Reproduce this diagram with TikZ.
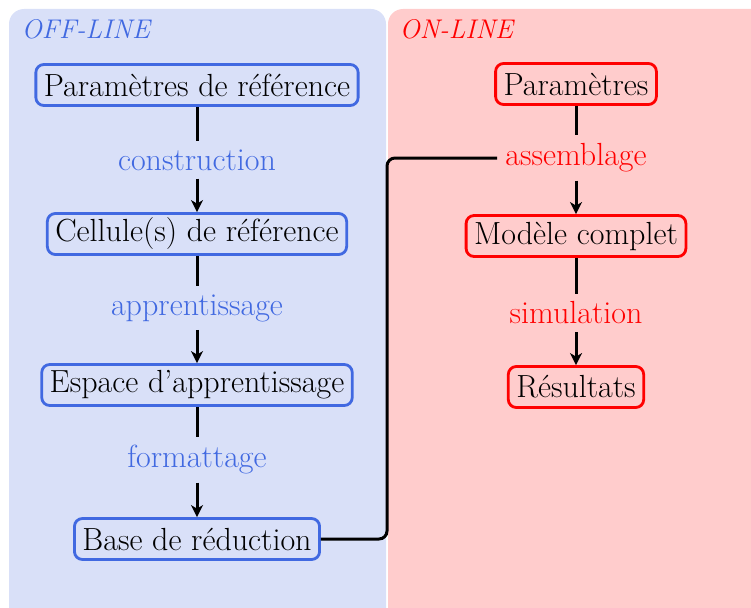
\documentclass[tikz,border=0pt]{standalone}
\usetikzlibrary{arrows.meta}
\definecolor{offblue}{RGB}{65,105,225}
\definecolor{offbg}{RGB}{217,224,248}
\definecolor{onred}{RGB}{255,0,0}
\definecolor{onbg}{RGB}{255,204,204}
\begin{document}
\begin{tikzpicture}[x=1pt,y=-1pt,
  font=\fontsize{32}{38}\selectfont,
  panel/.style={rounded corners=15},
  offbox/.style={draw=offblue,line width=2.8pt,rounded corners=8,fill=offbg,
    inner xsep=8pt,inner ysep=2pt,minimum height=41pt,text=black},
  onbox/.style={draw=onred,line width=2.8pt,rounded corners=8,fill=onbg,
    inner xsep=8pt,inner ysep=2pt,minimum height=41pt,text=black},
  offlab/.style={text=offblue,inner sep=8pt},
  onlab/.style={text=onred,inner sep=8pt},
  link/.style={line width=3pt,black},
  arr/.style={link,-{Stealth[length=12pt,width=12pt,inset=3.5pt]}}
]
\useasboundingbox (0,0) rectangle (751,607);
\begin{scope}
\clip (0,0) rectangle (751,607);
\fill[offbg,panel] (9,9) rectangle (386,640);
\fill[onbg,panel] (388,9) rectangle (780,640);
\end{scope}

\node[anchor=base west,text=offblue,font=\fontsize{27}{32}\selectfont\itshape] (offtitle) at (18,39) {OFF-LINE};
\node[anchor=base west,text=onred,font=\fontsize{27}{32}\selectfont\itshape] (ontitle) at (396,39) {ON-LINE};

% off-line chain
\node[offbox] (pref) at (197,85) {Paramètres de référence};
\node[offlab] (constr) at (197,160) {construction};
\node[offbox] (cell) at (197,234) {Cellule(s) de référence};
\node[offlab] (appr) at (197,308) {apprentissage};
\node[offbox] (esp) at (197,385) {Espace d'apprentissage};
\node[offlab] (form) at (197,460) {formattage};
\node[offbox] (base) at (197,539) {Base de réduction};

% on-line chain
\node[onbox] (par) at (576,84) {Paramètres};
\node[onlab] (assem) at (576,158) {assemblage};
\node[onbox] (mod) at (576,236) {Modèle complet};
\node[onlab] (simu) at (576,313) {simulation};
\node[onbox] (res) at (576,387) {Résultats};

\draw[link] (pref) -- (constr);
\draw[arr] (constr) -- (cell);
\draw[link] (cell) -- (appr);
\draw[arr] (appr) -- (esp);
\draw[link] (esp) -- (form);
\draw[arr] (form) -- (base);

\draw[link] (par) -- (assem);
\draw[arr] (assem) -- (mod);
\draw[link] (mod) -- (simu);
\draw[arr] (simu) -- (res);

\coordinate (bend) at (387,300);
\draw[link,rounded corners=8] (base.east) -- (base.east -| bend) -- (assem.west -| bend) -- (assem.west);
\end{tikzpicture}
\end{document}
